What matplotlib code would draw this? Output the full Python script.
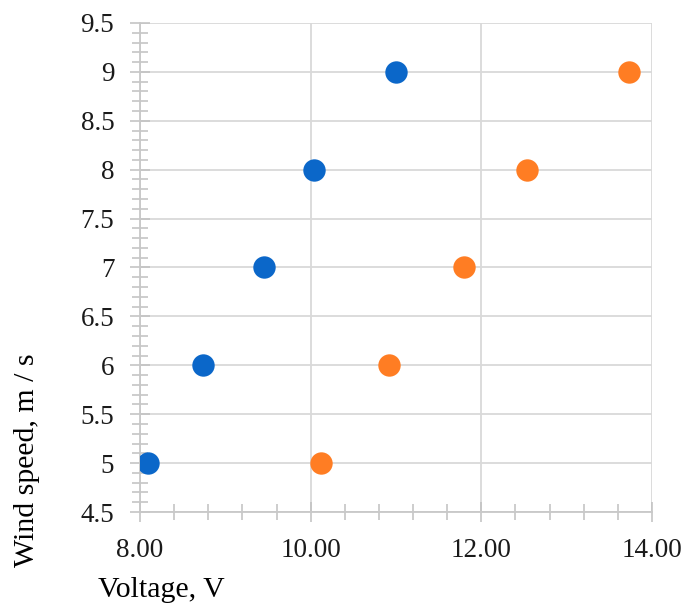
import matplotlib
matplotlib.use("Agg")
import matplotlib.pyplot as plt
from matplotlib.ticker import MultipleLocator, FormatStrFormatter, FuncFormatter

wind_speed = [5, 6, 7, 8, 9]
voltage_blue = [8.09, 8.74, 9.45, 10.04, 11.00]
voltage_orange = [10.12, 10.92, 11.80, 12.54, 13.73]

x_ticks = [8, 10, 12, 14]
y_ticks = [4.5, 5, 5.5, 6, 6.5, 7, 7.5, 8, 8.5, 9, 9.5]

plt.rcParams['font.family'] = ['Liberation Serif', 'DejaVu Serif']

fig = plt.figure(figsize=(6.85, 6.09), dpi=100)
ax = fig.add_axes([140/685, 1 - 512/609, (652-140)/685, (512-23)/609])

ax.scatter(voltage_blue, wind_speed, s=260, color='#0B67C9', zorder=3, linewidths=0)
ax.scatter(voltage_orange, wind_speed, s=260, color='#FF7D23', zorder=3, linewidths=0)

ax.set_xlim(8, 14)
ax.set_ylim(4.5, 9.5)
ax.set_xticks(x_ticks)
ax.set_yticks(y_ticks)
ax.xaxis.set_major_formatter(FormatStrFormatter('%.2f'))
ax.yaxis.set_major_formatter(FuncFormatter(lambda v, p: ('%g' % v)))
ax.xaxis.set_minor_locator(MultipleLocator(0.4))
ax.yaxis.set_minor_locator(MultipleLocator(0.1))

gc = '#d9d9d9'
ax.grid(True, which='major', color=gc, linewidth=1.3, zorder=0)
for s in ['top', 'right']:
    ax.spines[s].set_visible(False)
for s in ['left', 'bottom']:
    ax.spines[s].set_color('#c8c8c8')
    ax.spines[s].set_linewidth(1.3)

ax.tick_params(axis='both', which='both', direction='inout', color='#c0c0c0', width=1.1)
ax.tick_params(axis='both', which='major', length=14, labelsize=19.5)
ax.tick_params(axis='both', which='minor', length=12)
ax.tick_params(axis='y', which='major', pad=11.5)
ax.tick_params(axis='x', which='major', pad=12)
for lab in ax.get_xticklabels() + ax.get_yticklabels():
    lab.set_color('#1a1a1a')

fig.text(27/685, 1 - 460/609, 'Wind speed, m / s', rotation=90, fontsize=21.5,
         ha='center', va='center', color='black')
fig.text(98/685, 1 - 590/609, 'Voltage, V', fontsize=21.5, ha='left', va='center', color='black')

fig.savefig('out.png', dpi=100)
